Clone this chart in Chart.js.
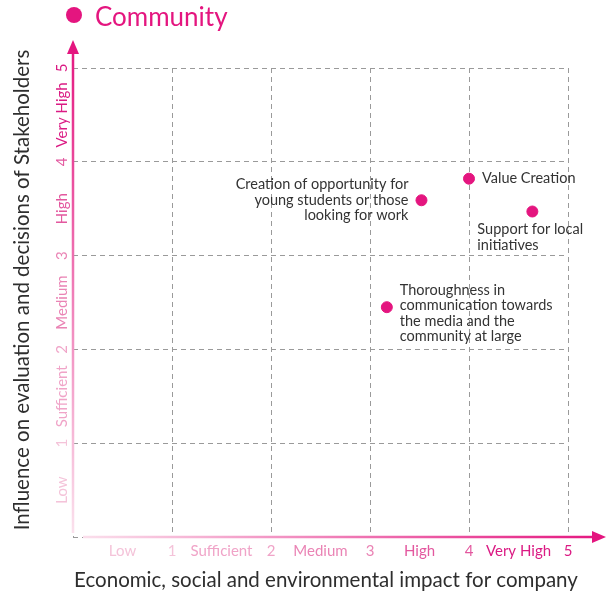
<!DOCTYPE html>
<html>
<head>
<meta charset="utf-8">
<script src="https://cdn.jsdelivr.net/npm/chart.js@4.4.1/dist/chart.umd.min.js"></script>
<style>
  html, body { margin: 0; padding: 0; background: #fff; }
  #wrap { width: 613px; height: 600px; }
</style>
</head>
<body>
<div id="wrap"><canvas id="chart" width="613" height="600"></canvas></div>
<script>
// data
const seriesName = 'Community';
const pointLabels = [
  ['Value Creation'],
  ['Creation of opportunity for', 'young students or those', 'looking for work'],
  ['Support for local', 'initiatives'],
  ['Thoroughness in', 'communication towards', 'the media and the', 'community at large'],
];
const impactValues = [4.0, 3.52, 4.64, 3.17];
const influenceValues = [3.82, 3.59, 3.47, 2.45];
const labelSide = ['right', 'left', 'below', 'right'];

const tickNumbers = [1, 2, 3, 4, 5];
const levelNames = ['Low', 'Sufficient', 'Medium', 'High', 'Very High'];
const levelColors = ['#f4c3d9', '#f0a4c8', '#ea84b5', '#e3589f', '#db1b84'];

const xTitle = 'Economic, social and environmental impact for company';
const yTitle = 'Influence on evaluation and decisions of Stakeholders';

const PINK = '#e4157f';
const FONT = 'Lato, "Open Sans", sans-serif';

const decorations = {
  id: 'decorations',
  afterDraw(chart) {
    const { ctx, scales } = chart;
    const x = scales.x;
    const y = scales.y;
    const x0 = x.getPixelForValue(0);
    const y0 = y.getPixelForValue(0);
    ctx.save();

    // axis lines with fading pink
    const xEnd = 606;
    const yEnd = 40;
    let grad = ctx.createLinearGradient(x0, 0, xEnd, 0);
    grad.addColorStop(0, '#fbe3ee');
    grad.addColorStop(1, PINK);
    ctx.strokeStyle = grad;
    ctx.lineWidth = 2.5;
    ctx.beginPath();
    ctx.moveTo(x0 + 10, y0);
    ctx.lineTo(xEnd - 10, y0);
    ctx.stroke();
    ctx.fillStyle = PINK;
    ctx.beginPath();
    ctx.moveTo(xEnd, y0);
    ctx.lineTo(xEnd - 14, y0 - 6);
    ctx.lineTo(xEnd - 14, y0 + 6);
    ctx.closePath();
    ctx.fill();

    grad = ctx.createLinearGradient(0, y0, 0, yEnd);
    grad.addColorStop(0, '#fbe3ee');
    grad.addColorStop(1, PINK);
    ctx.strokeStyle = grad;
    ctx.beginPath();
    ctx.moveTo(x0, y0 - 4);
    ctx.lineTo(x0, yEnd + 10);
    ctx.stroke();
    ctx.beginPath();
    ctx.moveTo(x0, yEnd);
    ctx.lineTo(x0 - 6, yEnd + 14);
    ctx.lineTo(x0 + 6, yEnd + 14);
    ctx.closePath();
    ctx.fill();

    // x tick numbers and level names
    ctx.font = '15px ' + FONT;
    ctx.textAlign = 'center';
    ctx.textBaseline = 'middle';
    tickNumbers.forEach((n, i) => {
      ctx.fillStyle = levelColors[i];
      ctx.fillText(String(n), x.getPixelForValue(n), y0 + 14);
      ctx.fillText(levelNames[i], x.getPixelForValue(n - 0.5), y0 + 14);
    });

    // y tick numbers and level names, rotated
    tickNumbers.forEach((n, i) => {
      ctx.fillStyle = levelColors[i];
      [[String(n), n], [levelNames[i], n - 0.5]].forEach(([txt, v]) => {
        ctx.save();
        ctx.translate(x0 - 11, y.getPixelForValue(v));
        ctx.rotate(-Math.PI / 2);
        ctx.fillText(txt, 0, 0);
        ctx.restore();
      });
    });

    // axis titles
    ctx.fillStyle = '#2e2e2e';
    ctx.font = '20.5px ' + FONT;
    ctx.fillText(xTitle, 326, 580);
    ctx.save();
    ctx.translate(22, 290);
    ctx.rotate(-Math.PI / 2);
    ctx.fillText(yTitle, 0, 0);
    ctx.restore();

    // legend
    ctx.fillStyle = PINK;
    ctx.beginPath();
    ctx.arc(74, 15, 8, 0, Math.PI * 2);
    ctx.fill();
    ctx.font = '26px ' + FONT;
    ctx.textAlign = 'left';
    ctx.fillText(seriesName, 95, 18);

    // point labels
    ctx.fillStyle = '#333';
    ctx.font = '14.5px ' + FONT;
    const lh = 15.5;
    pointLabels.forEach((lines, i) => {
      const px = x.getPixelForValue(impactValues[i]);
      const py = y.getPixelForValue(influenceValues[i]);
      const side = labelSide[i];
      let tx, ty;
      if (side === 'right') {
        ctx.textAlign = 'left';
        tx = px + 13;
        ty = lines.length > 2 ? py - 17 : py;
      } else if (side === 'left') {
        ctx.textAlign = 'right';
        tx = px - 13;
        ty = py - ((lines.length - 1) * lh) / 2;
      } else {
        ctx.textAlign = 'left';
        tx = px - 55;
        ty = py + 18;
      }
      lines.forEach((ln, k) => ctx.fillText(ln, tx, ty + k * lh));
    });

    ctx.restore();
  }
};

const gridStyle = {
  color: '#9a9a9a',
  lineWidth: 1,
  drawTicks: false,
};

new Chart(document.getElementById('chart'), {
  type: 'scatter',
  data: {
    datasets: [{
      label: seriesName,
      data: impactValues.map((v, i) => ({ x: v, y: influenceValues[i] })),
      backgroundColor: PINK,
      borderColor: PINK,
      pointRadius: 5.5,
      pointHoverRadius: 5.5,
    }],
  },
  options: {
    responsive: false,
    animation: false,
    layout: { padding: { left: 73, right: 45, top: 68, bottom: 63 } },
    plugins: {
      legend: { display: false },
      tooltip: { enabled: false },
    },
    scales: {
      x: {
        type: 'linear',
        min: 0,
        max: 5,
        ticks: { display: false, stepSize: 1 },
        grid: gridStyle,
        border: { display: false, dash: [5, 4] },
      },
      y: {
        type: 'linear',
        min: 0,
        max: 5,
        ticks: { display: false, stepSize: 1 },
        grid: gridStyle,
        border: { display: false, dash: [5, 4] },
      },
    },
  },
  plugins: [decorations],
});
</script>
</body>
</html>
